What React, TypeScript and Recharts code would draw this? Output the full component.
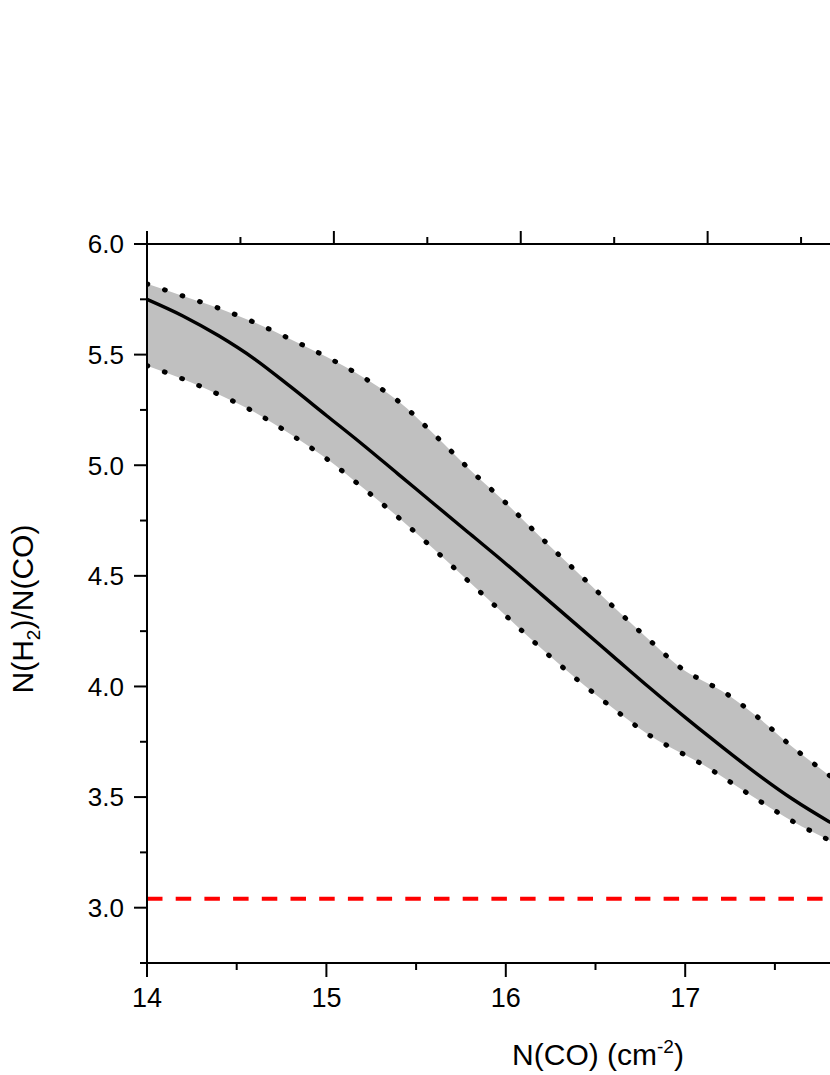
import { Area, ComposedChart, Line, ReferenceLine, XAxis, YAxis } from "recharts";

// N(CO) grid, log cm^-2
const nco = [14.0, 14.2, 14.4, 14.6, 14.8, 15.0, 15.2, 15.4, 15.6, 15.8, 16.0, 16.2, 16.4, 16.6, 16.8, 17.0, 17.1, 17.2, 17.4, 17.6, 17.8, 18.0];
const ratioMid = [5.75, 5.675, 5.585, 5.48, 5.355, 5.225, 5.095, 4.96, 4.825, 4.69, 4.555, 4.415, 4.275, 4.135, 3.995, 3.86, 3.795, 3.73, 3.605, 3.49, 3.39, 3.3];
const ratioUpper = [5.82, 5.765, 5.71, 5.645, 5.57, 5.49, 5.4, 5.29, 5.14, 4.98, 4.83, 4.67, 4.515, 4.36, 4.21, 4.07, 4.025, 3.982, 3.864, 3.725, 3.6, 3.48];
const ratioLower = [5.45, 5.39, 5.32, 5.24, 5.14, 5.03, 4.9, 4.765, 4.62, 4.47, 4.32, 4.17, 4.03, 3.9, 3.78, 3.69, 3.646, 3.595, 3.49, 3.39, 3.306, 3.22];
const galacticRatio = 3.04;

const yTicks = [2.75, 3.0, 3.25, 3.5, 3.75, 4.0, 4.25, 4.5, 4.75, 5.0, 5.25, 5.5, 5.75, 6.0];
const xTicks = [14, 14.5, 15, 15.5, 16, 16.5, 17, 17.5];
const topTicks = [14, 14.5, 15, 15.5, 16, 16.5, 17, 17.5, 18, 18.5];

const data = nco.map((x, i) => ({
  x,
  mid: ratioMid[i],
  upper: ratioUpper[i],
  lower: ratioLower[i],
  band: [ratioLower[i], ratioUpper[i]],
}));

const font = '"Liberation Sans", Arial, sans-serif';
const isMajor = (v: number, step: number) => Math.abs(v / step - Math.round(v / step)) < 1e-6;

function LeftTick({ x, y, payload }: any) {
  const v = payload.value as number;
  const major = isMajor(v, 0.5);
  return (
    <g>
      <line x1={x} x2={x - (major ? 13 : 7)} y1={y} y2={y} stroke="#000" strokeWidth={2} />
      {major && (
        <text x={x - 23} y={y} dy="0.36em" textAnchor="end" fontSize={26} fontFamily={font} fill="#000">
          {v.toFixed(1)}
        </text>
      )}
    </g>
  );
}

function BottomTick({ x, y, payload }: any) {
  const v = payload.value as number;
  const major = isMajor(v, 1);
  return (
    <g>
      <line x1={x} x2={x} y1={y} y2={y + (major ? 14 : 7)} stroke="#000" strokeWidth={2} />
      {major && (
        <text x={x} y={y + 44} textAnchor="middle" fontSize={27} fontFamily={font} fill="#000">
          {v}
        </text>
      )}
    </g>
  );
}

function TopTick({ x, y, payload }: any) {
  const major = isMajor(payload.value as number, 1);
  return <line x1={x} x2={x} y1={y} y2={y - (major ? 13 : 7)} stroke="#000" strokeWidth={2} />;
}

function XTitle() {
  return (
    <text x={598} y={1065} textAnchor="middle" fontSize={30} fontFamily={font} fill="#000">
      N(CO) (cm
      <tspan fontSize={19} dy={-12}>-2</tspan>
      <tspan fontSize={30} dy={12}>)</tspan>
    </text>
  );
}

function YTitle() {
  return (
    <text
      x={33}
      y={609}
      transform="rotate(-90, 33, 609)"
      textAnchor="middle"
      fontSize={30}
      fontFamily={font}
      fill="#000"
    >
      N(H
      <tspan fontSize={19} dy={7}>2</tspan>
      <tspan fontSize={30} dy={-7}>)/N(CO)</tspan>
    </text>
  );
}

export default function App() {
  return (
    <div
      style={{
        position: "fixed",
        left: 0,
        top: 0,
        width: 830,
        height: 1075,
        overflow: "hidden",
        background: "#fff",
      }}
    >
      <ComposedChart
        width={1100}
        height={1075}
        data={data}
        margin={{ top: 214, right: 56, bottom: 0, left: 0 }}
      >
        <XAxis
          dataKey="x"
          type="number"
          domain={[14, 19]}
          ticks={xTicks}
          interval={0}
          allowDataOverflow
          height={112}
          tickSize={0}
          tickMargin={0}
          tickLine={false}
          axisLine={{ stroke: "#000", strokeWidth: 2 }}
          tick={<BottomTick />}
          label={<XTitle />}
        />
        <XAxis
          xAxisId="top"
          dataKey="x"
          orientation="top"
          type="number"
          domain={[14, 18.8]}
          ticks={topTicks}
          interval={0}
          allowDataOverflow
          height={30}
          tickSize={0}
          tickMargin={0}
          tickLine={false}
          axisLine={{ stroke: "#000", strokeWidth: 2 }}
          tick={<TopTick />}
        />
        <YAxis
          type="number"
          domain={[2.75, 6]}
          ticks={yTicks}
          interval={0}
          allowDataOverflow
          width={147}
          tickSize={0}
          tickMargin={0}
          tickLine={false}
          axisLine={{ stroke: "#000", strokeWidth: 2 }}
          tick={<LeftTick />}
          label={<YTitle />}
        />
        <Area
          dataKey="band"
          type="monotone"
          fill="#c0c0c0"
          fillOpacity={1}
          stroke="none"
          isAnimationActive={false}
          activeDot={false}
        />
        <Line
          dataKey="upper"
          type="monotone"
          stroke="#000"
          strokeWidth={5}
          strokeLinecap="round"
          strokeDasharray="0.8 17.7"
          dot={false}
          activeDot={false}
          isAnimationActive={false}
        />
        <Line
          dataKey="lower"
          type="monotone"
          stroke="#000"
          strokeWidth={5}
          strokeLinecap="round"
          strokeDasharray="0.8 17.7"
          dot={false}
          activeDot={false}
          isAnimationActive={false}
        />
        <Line
          dataKey="mid"
          type="monotone"
          stroke="#000"
          strokeWidth={3.4}
          dot={false}
          activeDot={false}
          isAnimationActive={false}
        />
        <ReferenceLine
          y={galacticRatio}
          stroke="#ff0000"
          strokeWidth={4}
          strokeDasharray="15.5 13.2"
        />
      </ComposedChart>
    </div>
  );
}
